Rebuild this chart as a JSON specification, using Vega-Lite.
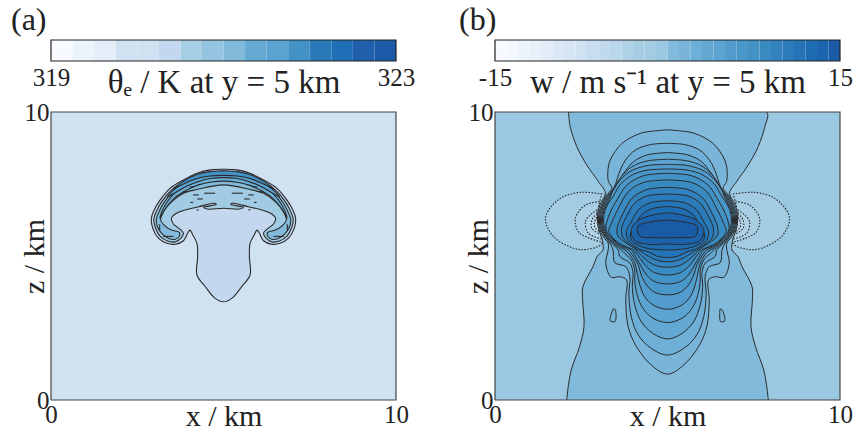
{"$schema":"https://vega.github.io/schema/vega-lite/v6.json","padding":{"left":11,"top":4,"right":10,"bottom":0},"background":"white","config":{"font":"Liberation Serif","view":{"stroke":null},"axis":{"labelFont":"Liberation Serif","titleFont":"Liberation Serif","labelColor":"#222","titleColor":"#222","grid":false,"ticks":false,"domain":false,"labelFontSize":25,"titleFontSize":30,"titleFontWeight":"normal","labelFlush":false,"labelOverlap":false}},
"datasets":{
"ca":[{"v":319,"e":319.25},{"v":319.25,"e":319.5},{"v":319.5,"e":319.75},{"v":319.75,"e":320},{"v":320,"e":320.25},{"v":320.25,"e":320.5},{"v":320.5,"e":320.75},{"v":320.75,"e":321},{"v":321,"e":321.25},{"v":321.25,"e":321.5},{"v":321.5,"e":321.75},{"v":321.75,"e":322},{"v":322,"e":322.25},{"v":322.25,"e":322.5},{"v":322.5,"e":322.75},{"v":322.75,"e":323}],
"cb":[{"v":-15,"e":-14},{"v":-14,"e":-13},{"v":-13,"e":-12},{"v":-12,"e":-11},{"v":-11,"e":-10},{"v":-10,"e":-9},{"v":-9,"e":-8},{"v":-8,"e":-7},{"v":-7,"e":-6},{"v":-6,"e":-5},{"v":-5,"e":-4},{"v":-4,"e":-3},{"v":-3,"e":-2},{"v":-2,"e":-1},{"v":-1,"e":0},{"v":0,"e":1},{"v":1,"e":2},{"v":2,"e":3},{"v":3,"e":4},{"v":4,"e":5},{"v":5,"e":6},{"v":6,"e":7},{"v":7,"e":8},{"v":8,"e":9},{"v":9,"e":10},{"v":10,"e":11},{"v":11,"e":12},{"v":12,"e":13},{"v":13,"e":14},{"v":14,"e":15}],
"a":[{"c":0,"l":319.75,"x":0,"z":0},{"c":0,"l":319.75,"x":10,"z":0},{"c":0,"l":319.75,"x":10,"z":10},{"c":0,"l":319.75,"x":0,"z":10},{"c":0,"l":319.75,"x":0,"z":0},
{"c":1,"l":320.25,"x":5,"z":8.01},{"c":1,"l":320.25,"x":4.61,"z":7.99},{"c":1,"l":320.25,"x":4.23,"z":7.87},{"c":1,"l":320.25,"x":3.84,"z":7.64},{"c":1,"l":320.25,"x":3.45,"z":7.35},{"c":1,"l":320.25,"x":3.16,"z":6.94},{"c":1,"l":320.25,"x":2.99,"z":6.6},{"c":1,"l":320.25,"x":2.91,"z":6.31},{"c":1,"l":320.25,"x":2.95,"z":5.96},{"c":1,"l":320.25,"x":3.12,"z":5.61},{"c":1,"l":320.25,"x":3.36,"z":5.44},{"c":1,"l":320.25,"x":3.6,"z":5.41},{"c":1,"l":320.25,"x":3.84,"z":5.53},{"c":1,"l":320.25,"x":3.96,"z":5.79},{"c":1,"l":320.25,"x":4.03,"z":5.9},{"c":1,"l":320.25,"x":4.11,"z":5.73},{"c":1,"l":320.25,"x":4.23,"z":5.44},{"c":1,"l":320.25,"x":4.25,"z":4.98},{"c":1,"l":320.25,"x":4.23,"z":4.34},{"c":1,"l":320.25,"x":4.47,"z":3.94},{"c":1,"l":320.25,"x":4.76,"z":3.53},{"c":1,"l":320.25,"x":5,"z":3.41},{"c":1,"l":320.25,"x":5.24,"z":3.53},{"c":1,"l":320.25,"x":5.53,"z":3.94},{"c":1,"l":320.25,"x":5.77,"z":4.34},{"c":1,"l":320.25,"x":5.75,"z":4.98},{"c":1,"l":320.25,"x":5.77,"z":5.44},{"c":1,"l":320.25,"x":5.89,"z":5.73},{"c":1,"l":320.25,"x":5.97,"z":5.9},{"c":1,"l":320.25,"x":6.04,"z":5.79},{"c":1,"l":320.25,"x":6.16,"z":5.53},{"c":1,"l":320.25,"x":6.4,"z":5.41},{"c":1,"l":320.25,"x":6.64,"z":5.44},{"c":1,"l":320.25,"x":6.88,"z":5.61},{"c":1,"l":320.25,"x":7.05,"z":5.96},{"c":1,"l":320.25,"x":7.09,"z":6.31},{"c":1,"l":320.25,"x":7.01,"z":6.6},{"c":1,"l":320.25,"x":6.84,"z":6.94},{"c":1,"l":320.25,"x":6.55,"z":7.35},{"c":1,"l":320.25,"x":6.16,"z":7.64},{"c":1,"l":320.25,"x":5.77,"z":7.87},{"c":1,"l":320.25,"x":5.39,"z":7.99},{"c":1,"l":320.25,"x":5,"z":8.01},
{"c":2,"l":320.75,"x":5,"z":7.94},{"c":2,"l":320.75,"x":4.61,"z":7.92},{"c":2,"l":320.75,"x":4.23,"z":7.8},{"c":2,"l":320.75,"x":3.86,"z":7.58},{"c":2,"l":320.75,"x":3.49,"z":7.29},{"c":2,"l":320.75,"x":3.21,"z":6.89},{"c":2,"l":320.75,"x":3.05,"z":6.54},{"c":2,"l":320.75,"x":2.98,"z":6.28},{"c":2,"l":320.75,"x":3.02,"z":6},{"c":2,"l":320.75,"x":3.16,"z":5.69},{"c":2,"l":320.75,"x":3.38,"z":5.52},{"c":2,"l":320.75,"x":3.6,"z":5.49},{"c":2,"l":320.75,"x":3.76,"z":5.61},{"c":2,"l":320.75,"x":3.84,"z":5.79},{"c":2,"l":320.75,"x":3.74,"z":5.93},{"c":2,"l":320.75,"x":3.55,"z":6.11},{"c":2,"l":320.75,"x":3.49,"z":6.31},{"c":2,"l":320.75,"x":3.6,"z":6.46},{"c":2,"l":320.75,"x":3.89,"z":6.6},{"c":2,"l":320.75,"x":4.28,"z":6.71},{"c":2,"l":320.75,"x":4.73,"z":6.83},{"c":2,"l":320.75,"x":4.79,"z":6.79},{"c":2,"l":320.75,"x":4.42,"z":6.69},{"c":2,"l":320.75,"x":4.54,"z":6.63},{"c":2,"l":320.75,"x":5,"z":6.66},{"c":2,"l":320.75,"x":5.46,"z":6.63},{"c":2,"l":320.75,"x":5.58,"z":6.69},{"c":2,"l":320.75,"x":5.21,"z":6.79},{"c":2,"l":320.75,"x":5.27,"z":6.83},{"c":2,"l":320.75,"x":5.72,"z":6.71},{"c":2,"l":320.75,"x":6.11,"z":6.6},{"c":2,"l":320.75,"x":6.4,"z":6.46},{"c":2,"l":320.75,"x":6.51,"z":6.31},{"c":2,"l":320.75,"x":6.45,"z":6.11},{"c":2,"l":320.75,"x":6.26,"z":5.93},{"c":2,"l":320.75,"x":6.16,"z":5.79},{"c":2,"l":320.75,"x":6.24,"z":5.61},{"c":2,"l":320.75,"x":6.4,"z":5.49},{"c":2,"l":320.75,"x":6.62,"z":5.52},{"c":2,"l":320.75,"x":6.84,"z":5.69},{"c":2,"l":320.75,"x":6.98,"z":6},{"c":2,"l":320.75,"x":7.02,"z":6.28},{"c":2,"l":320.75,"x":6.95,"z":6.54},{"c":2,"l":320.75,"x":6.79,"z":6.89},{"c":2,"l":320.75,"x":6.51,"z":7.29},{"c":2,"l":320.75,"x":6.14,"z":7.58},{"c":2,"l":320.75,"x":5.77,"z":7.8},{"c":2,"l":320.75,"x":5.39,"z":7.92},{"c":2,"l":320.75,"x":5,"z":7.94},
{"c":3,"l":321,"x":5,"z":7.87},{"c":3,"l":321,"x":4.23,"z":7.71},{"c":3,"l":321,"x":3.89,"z":7.52},{"c":3,"l":321,"x":3.53,"z":7.23},{"c":3,"l":321,"x":3.26,"z":6.83},{"c":3,"l":321,"x":3.11,"z":6.48},{"c":3,"l":321,"x":3.05,"z":6.25},{"c":3,"l":321,"x":3.09,"z":6},{"c":3,"l":321,"x":3.23,"z":5.76},{"c":3,"l":321,"x":3.41,"z":5.61},{"c":3,"l":321,"x":3.6,"z":5.58},{"c":3,"l":321,"x":3.72,"z":5.69},{"c":3,"l":321,"x":3.72,"z":5.82},{"c":3,"l":321,"x":3.5,"z":5.9},{"c":3,"l":321,"x":3.31,"z":6.04},{"c":3,"l":321,"x":3.18,"z":6.25},{"c":3,"l":321,"x":3.26,"z":6.54},{"c":3,"l":321,"x":3.5,"z":6.89},{"c":3,"l":321,"x":3.84,"z":7.18},{"c":3,"l":321,"x":4.23,"z":7.31},{"c":3,"l":321,"x":5,"z":7.47},{"c":3,"l":321,"x":5.77,"z":7.31},{"c":3,"l":321,"x":6.16,"z":7.18},{"c":3,"l":321,"x":6.5,"z":6.89},{"c":3,"l":321,"x":6.74,"z":6.54},{"c":3,"l":321,"x":6.82,"z":6.25},{"c":3,"l":321,"x":6.69,"z":6.04},{"c":3,"l":321,"x":6.5,"z":5.9},{"c":3,"l":321,"x":6.28,"z":5.82},{"c":3,"l":321,"x":6.28,"z":5.69},{"c":3,"l":321,"x":6.4,"z":5.58},{"c":3,"l":321,"x":6.59,"z":5.61},{"c":3,"l":321,"x":6.77,"z":5.76},{"c":3,"l":321,"x":6.91,"z":6},{"c":3,"l":321,"x":6.95,"z":6.25},{"c":3,"l":321,"x":6.89,"z":6.48},{"c":3,"l":321,"x":6.74,"z":6.83},{"c":3,"l":321,"x":6.47,"z":7.23},{"c":3,"l":321,"x":6.11,"z":7.52},{"c":3,"l":321,"x":5.77,"z":7.71},{"c":3,"l":321,"x":5,"z":7.87},
{"c":4,"l":321.5,"x":5,"z":7.8},{"c":4,"l":321.5,"x":4.23,"z":7.62},{"c":4,"l":321.5,"x":3.89,"z":7.43},{"c":4,"l":321.5,"x":3.55,"z":7.15},{"c":4,"l":321.5,"x":3.34,"z":6.83},{"c":4,"l":321.5,"x":3.21,"z":6.54},{"c":4,"l":321.5,"x":3.16,"z":6.31},{"c":4,"l":321.5,"x":3.29,"z":6.6},{"c":4,"l":321.5,"x":3.57,"z":7},{"c":4,"l":321.5,"x":3.94,"z":7.29},{"c":4,"l":321.5,"x":4.28,"z":7.47},{"c":4,"l":321.5,"x":4.61,"z":7.56},{"c":4,"l":321.5,"x":5,"z":7.6},{"c":4,"l":321.5,"x":5.39,"z":7.56},{"c":4,"l":321.5,"x":5.72,"z":7.47},{"c":4,"l":321.5,"x":6.06,"z":7.29},{"c":4,"l":321.5,"x":6.43,"z":7},{"c":4,"l":321.5,"x":6.71,"z":6.6},{"c":4,"l":321.5,"x":6.84,"z":6.31},{"c":4,"l":321.5,"x":6.79,"z":6.54},{"c":4,"l":321.5,"x":6.66,"z":6.83},{"c":4,"l":321.5,"x":6.45,"z":7.15},{"c":4,"l":321.5,"x":6.11,"z":7.43},{"c":4,"l":321.5,"x":5.77,"z":7.62},{"c":4,"l":321.5,"x":5,"z":7.8},
{"c":5,"l":322,"x":5,"z":7.89},{"c":5,"l":322,"x":4.61,"z":7.87},{"c":5,"l":322,"x":4.23,"z":7.75},{"c":5,"l":322,"x":3.84,"z":7.55},{"c":5,"l":322,"x":3.55,"z":7.29},{"c":5,"l":322,"x":3.38,"z":7.06},{"c":5,"l":322,"x":3.6,"z":7.2},{"c":5,"l":322,"x":3.94,"z":7.43},{"c":5,"l":322,"x":4.28,"z":7.59},{"c":5,"l":322,"x":4.61,"z":7.69},{"c":5,"l":322,"x":5,"z":7.72},{"c":5,"l":322,"x":5.39,"z":7.69},{"c":5,"l":322,"x":5.72,"z":7.59},{"c":5,"l":322,"x":6.06,"z":7.43},{"c":5,"l":322,"x":6.4,"z":7.2},{"c":5,"l":322,"x":6.62,"z":7.06},{"c":5,"l":322,"x":6.45,"z":7.29},{"c":5,"l":322,"x":6.16,"z":7.55},{"c":5,"l":322,"x":5.77,"z":7.75},{"c":5,"l":322,"x":5.39,"z":7.87},{"c":5,"l":322,"x":5,"z":7.89},
{"c":6,"l":322.5,"x":5,"z":7.96},{"c":6,"l":322.5,"x":4.61,"z":7.93},{"c":6,"l":322.5,"x":4.23,"z":7.83},{"c":6,"l":322.5,"x":3.84,"z":7.6},{"c":6,"l":322.5,"x":3.55,"z":7.33},{"c":6,"l":322.5,"x":3.84,"z":7.5},{"c":6,"l":322.5,"x":4.23,"z":7.69},{"c":6,"l":322.5,"x":4.61,"z":7.78},{"c":6,"l":322.5,"x":5,"z":7.8},{"c":6,"l":322.5,"x":5.39,"z":7.78},{"c":6,"l":322.5,"x":5.77,"z":7.69},{"c":6,"l":322.5,"x":6.16,"z":7.5},{"c":6,"l":322.5,"x":6.45,"z":7.33},{"c":6,"l":322.5,"x":6.16,"z":7.6},{"c":6,"l":322.5,"x":5.77,"z":7.83},{"c":6,"l":322.5,"x":5.39,"z":7.93},{"c":6,"l":322.5,"x":5,"z":7.96},
{"c":10,"l":322.25,"x":4.76,"z":7.18},{"c":10,"l":322.25,"x":4.44,"z":7.18},{"c":11,"l":322.25,"x":5.24,"z":7.18},{"c":11,"l":322.25,"x":5.56,"z":7.18},{"c":12,"l":322.25,"x":4.28,"z":7.12},{"c":12,"l":322.25,"x":4.12,"z":7.12},{"c":13,"l":322.25,"x":5.72,"z":7.12},{"c":13,"l":322.25,"x":5.88,"z":7.12},{"c":14,"l":322.25,"x":4.4,"z":6.98},{"c":14,"l":322.25,"x":4.24,"z":6.98},{"c":15,"l":322.25,"x":5.6,"z":6.98},{"c":15,"l":322.25,"x":5.76,"z":6.98},{"c":16,"l":322.25,"x":4.12,"z":6.86},{"c":16,"l":322.25,"x":4.04,"z":6.86},{"c":17,"l":322.25,"x":5.88,"z":6.86},{"c":17,"l":322.25,"x":5.96,"z":6.86},{"c":18,"l":322.25,"x":4.28,"z":6.6},{"c":18,"l":322.25,"x":4.22,"z":6.6},{"c":19,"l":322.25,"x":5.72,"z":6.6},{"c":19,"l":322.25,"x":5.78,"z":6.6},{"c":20,"l":322.25,"x":3.15,"z":5.9},{"c":20,"l":322.25,"x":3.15,"z":6.1},{"c":21,"l":322.25,"x":6.85,"z":5.9},{"c":21,"l":322.25,"x":6.85,"z":6.1},{"c":22,"l":322.25,"x":3.55,"z":5.68},{"c":22,"l":322.25,"x":3.25,"z":5.68},{"c":23,"l":322.25,"x":6.45,"z":5.68},{"c":23,"l":322.25,"x":6.75,"z":5.68},{"c":24,"l":322.25,"x":3.95,"z":7.23},{"c":24,"l":322.25,"x":3.83,"z":7.23},{"c":25,"l":322.25,"x":6.05,"z":7.23},{"c":25,"l":322.25,"x":6.17,"z":7.23},{"c":26,"l":322.25,"x":4.15,"z":7.4},{"c":26,"l":322.25,"x":4.02,"z":7.4},{"c":27,"l":322.25,"x":5.85,"z":7.4},{"c":27,"l":322.25,"x":5.98,"z":7.4}],
"b":[{"c":0,"l":-1,"x":0,"z":0},{"c":0,"l":-1,"x":10,"z":0},{"c":0,"l":-1,"x":10,"z":10},{"c":0,"l":-1,"x":0,"z":10},{"c":0,"l":-1,"x":0,"z":0},
{"c":20,"l":-2,"x":3.1,"z":7.15},{"c":20,"l":-2,"x":2.47,"z":7.21},{"c":20,"l":-2,"x":1.89,"z":7},{"c":20,"l":-2,"x":1.5,"z":6.48},{"c":20,"l":-2,"x":1.47,"z":6.19},{"c":20,"l":-2,"x":1.7,"z":5.67},{"c":20,"l":-2,"x":2.28,"z":5.27},{"c":20,"l":-2,"x":2.66,"z":5.23},{"c":20,"l":-2,"x":3.1,"z":5.44},{"c":20,"l":-2,"x":2.97,"z":5.95},{"c":20,"l":-2,"x":2.95,"z":6.35},{"c":20,"l":-2,"x":3,"z":6.75},{"c":20,"l":-2,"x":3.1,"z":7.15},
{"c":21,"l":-2,"x":6.9,"z":7.15},{"c":21,"l":-2,"x":7.53,"z":7.21},{"c":21,"l":-2,"x":8.11,"z":7},{"c":21,"l":-2,"x":8.5,"z":6.48},{"c":21,"l":-2,"x":8.53,"z":6.19},{"c":21,"l":-2,"x":8.3,"z":5.67},{"c":21,"l":-2,"x":7.72,"z":5.27},{"c":21,"l":-2,"x":7.34,"z":5.23},{"c":21,"l":-2,"x":6.9,"z":5.44},{"c":21,"l":-2,"x":7.03,"z":5.95},{"c":21,"l":-2,"x":7.05,"z":6.35},{"c":21,"l":-2,"x":7,"z":6.75},{"c":21,"l":-2,"x":6.9,"z":7.15},
{"c":22,"l":-3,"x":3.03,"z":6.89},{"c":22,"l":-3,"x":2.62,"z":6.77},{"c":22,"l":-3,"x":2.33,"z":6.31},{"c":22,"l":-3,"x":2.42,"z":5.84},{"c":22,"l":-3,"x":2.76,"z":5.61},{"c":22,"l":-3,"x":3.2,"z":5.5},{"c":22,"l":-3,"x":3.05,"z":5.95},{"c":22,"l":-3,"x":2.97,"z":6.35},{"c":22,"l":-3,"x":3.03,"z":6.89},
{"c":23,"l":-3,"x":6.97,"z":6.89},{"c":23,"l":-3,"x":7.38,"z":6.77},{"c":23,"l":-3,"x":7.67,"z":6.31},{"c":23,"l":-3,"x":7.58,"z":5.84},{"c":23,"l":-3,"x":7.24,"z":5.61},{"c":23,"l":-3,"x":6.8,"z":5.5},{"c":23,"l":-3,"x":6.95,"z":5.95},{"c":23,"l":-3,"x":7.03,"z":6.35},{"c":23,"l":-3,"x":6.97,"z":6.89},
{"c":24,"l":-4,"x":2.96,"z":6.6},{"c":24,"l":-4,"x":2.76,"z":6.42},{"c":24,"l":-4,"x":2.62,"z":6.19},{"c":24,"l":-4,"x":2.71,"z":5.79},{"c":24,"l":-4,"x":3.15,"z":5.61},{"c":24,"l":-4,"x":3,"z":6},{"c":24,"l":-4,"x":2.96,"z":6.6},
{"c":25,"l":-4,"x":7.04,"z":6.6},{"c":25,"l":-4,"x":7.24,"z":6.42},{"c":25,"l":-4,"x":7.38,"z":6.19},{"c":25,"l":-4,"x":7.29,"z":5.79},{"c":25,"l":-4,"x":6.85,"z":5.61},{"c":25,"l":-4,"x":7,"z":6},{"c":25,"l":-4,"x":7.04,"z":6.6},
{"c":26,"l":-5,"x":2.96,"z":6.48},{"c":26,"l":-5,"x":2.81,"z":6.25},{"c":26,"l":-5,"x":2.81,"z":5.96},{"c":26,"l":-5,"x":3.15,"z":5.73},{"c":26,"l":-5,"x":3,"z":6.1},{"c":26,"l":-5,"x":2.96,"z":6.48},
{"c":27,"l":-5,"x":7.04,"z":6.48},{"c":27,"l":-5,"x":7.19,"z":6.25},{"c":27,"l":-5,"x":7.19,"z":5.96},{"c":27,"l":-5,"x":6.85,"z":5.73},{"c":27,"l":-5,"x":7,"z":6.1},{"c":27,"l":-5,"x":7.04,"z":6.48},
{"c":28,"l":-6,"x":2.95,"z":6.35},{"c":28,"l":-6,"x":2.88,"z":6.15},{"c":28,"l":-6,"x":2.9,"z":5.98},{"c":28,"l":-6,"x":3.05,"z":5.85},{"c":28,"l":-6,"x":2.98,"z":6.1},{"c":28,"l":-6,"x":2.95,"z":6.35},
{"c":29,"l":-6,"x":7.05,"z":6.35},{"c":29,"l":-6,"x":7.12,"z":6.15},{"c":29,"l":-6,"x":7.1,"z":5.98},{"c":29,"l":-6,"x":6.95,"z":5.85},{"c":29,"l":-6,"x":7.02,"z":6.1},{"c":29,"l":-6,"x":7.05,"z":6.35},
{"c":1,"l":0,"x":2.13,"z":10},{"c":1,"l":0,"x":2.18,"z":9.49},{"c":1,"l":0,"x":2.37,"z":8.8},{"c":1,"l":0,"x":2.66,"z":8.16},{"c":1,"l":0,"x":3,"z":7.58},{"c":1,"l":0,"x":3.2,"z":7.18},{"c":1,"l":0,"x":3.05,"z":6.8},{"c":1,"l":0,"x":2.97,"z":6.35},{"c":1,"l":0,"x":3,"z":5.95},{"c":1,"l":0,"x":3.1,"z":5.6},{"c":1,"l":0,"x":3.13,"z":5.4},{"c":1,"l":0,"x":3.13,"z":5.21},{"c":1,"l":0,"x":2.96,"z":4.98},{"c":1,"l":0,"x":2.84,"z":4.63},{"c":1,"l":0,"x":2.55,"z":3.94},{"c":1,"l":0,"x":2.54,"z":3.47},{"c":1,"l":0,"x":2.58,"z":2.55},{"c":1,"l":0,"x":2.45,"z":1.85},{"c":1,"l":0,"x":2.21,"z":1.04},{"c":1,"l":0,"x":2.09,"z":0.12},{"c":1,"l":0,"x":2.09,"z":0},{"c":1,"l":0,"x":7.91,"z":0},{"c":1,"l":0,"x":7.91,"z":0.12},{"c":1,"l":0,"x":7.79,"z":1.04},{"c":1,"l":0,"x":7.55,"z":1.85},{"c":1,"l":0,"x":7.42,"z":2.55},{"c":1,"l":0,"x":7.46,"z":3.47},{"c":1,"l":0,"x":7.45,"z":3.94},{"c":1,"l":0,"x":7.16,"z":4.63},{"c":1,"l":0,"x":7.04,"z":4.98},{"c":1,"l":0,"x":6.87,"z":5.21},{"c":1,"l":0,"x":6.87,"z":5.4},{"c":1,"l":0,"x":6.9,"z":5.6},{"c":1,"l":0,"x":7,"z":5.95},{"c":1,"l":0,"x":7.03,"z":6.35},{"c":1,"l":0,"x":6.95,"z":6.8},{"c":1,"l":0,"x":6.8,"z":7.18},{"c":1,"l":0,"x":7,"z":7.58},{"c":1,"l":0,"x":7.34,"z":8.16},{"c":1,"l":0,"x":7.63,"z":8.8},{"c":1,"l":0,"x":7.82,"z":9.49},{"c":1,"l":0,"x":7.87,"z":10},{"c":1,"l":0,"x":2.13,"z":10},
{"c":30,"l":1,"x":3.42,"z":3.16},{"c":30,"l":1,"x":3.48,"z":3.15},{"c":30,"l":1,"x":3.48,"z":2.73},{"c":30,"l":1,"x":3.34,"z":2.75},{"c":30,"l":1,"x":3.42,"z":3.16},{"c":31,"l":1,"x":6.52,"z":3.16},{"c":31,"l":1,"x":6.57,"z":3.15},{"c":31,"l":1,"x":6.66,"z":2.75},{"c":31,"l":1,"x":6.54,"z":2.72},{"c":31,"l":1,"x":6.52,"z":3.16},
{"c":2,"l":1,"x":5,"z":9.38},{"c":2,"l":1,"x":4.6,"z":9.34},{"c":2,"l":1,"x":4.22,"z":9.26},{"c":2,"l":1,"x":3.68,"z":8.91},{"c":2,"l":1,"x":3.34,"z":8.33},{"c":2,"l":1,"x":3.27,"z":7.93},{"c":2,"l":1,"x":3.29,"z":7.58},{"c":2,"l":1,"x":3.39,"z":7.35},{"c":2,"l":1,"x":3.22,"z":7.1},{"c":2,"l":1,"x":3.08,"z":6.75},{"c":2,"l":1,"x":3,"z":6.35},{"c":2,"l":1,"x":3.03,"z":5.95},{"c":2,"l":1,"x":3.15,"z":5.65},{"c":2,"l":1,"x":3.28,"z":5.45},{"c":2,"l":1,"x":3.28,"z":5.21},{"c":2,"l":1,"x":3.21,"z":4.75},{"c":2,"l":1,"x":3.37,"z":4.26},{"c":2,"l":1,"x":3.61,"z":4.28},{"c":2,"l":1,"x":3.81,"z":4.17},{"c":2,"l":1,"x":3.79,"z":3.47},{"c":2,"l":1,"x":3.86,"z":2.55},{"c":2,"l":1,"x":4.1,"z":1.85},{"c":2,"l":1,"x":4.58,"z":1.16},{"c":2,"l":1,"x":5,"z":0.9},{"c":2,"l":1,"x":5.42,"z":1.16},{"c":2,"l":1,"x":5.9,"z":1.85},{"c":2,"l":1,"x":6.14,"z":2.55},{"c":2,"l":1,"x":6.21,"z":3.47},{"c":2,"l":1,"x":6.19,"z":4.17},{"c":2,"l":1,"x":6.39,"z":4.28},{"c":2,"l":1,"x":6.63,"z":4.26},{"c":2,"l":1,"x":6.79,"z":4.75},{"c":2,"l":1,"x":6.72,"z":5.21},{"c":2,"l":1,"x":6.72,"z":5.45},{"c":2,"l":1,"x":6.85,"z":5.65},{"c":2,"l":1,"x":6.97,"z":5.95},{"c":2,"l":1,"x":7,"z":6.35},{"c":2,"l":1,"x":6.92,"z":6.75},{"c":2,"l":1,"x":6.78,"z":7.1},{"c":2,"l":1,"x":6.61,"z":7.35},{"c":2,"l":1,"x":6.71,"z":7.58},{"c":2,"l":1,"x":6.73,"z":7.93},{"c":2,"l":1,"x":6.66,"z":8.33},{"c":2,"l":1,"x":6.32,"z":8.91},{"c":2,"l":1,"x":5.78,"z":9.26},{"c":2,"l":1,"x":5.4,"z":9.34},{"c":2,"l":1,"x":5,"z":9.38},
{"c":3,"l":2,"x":5,"z":8.91},{"c":3,"l":2,"x":4.51,"z":8.87},{"c":3,"l":2,"x":4.07,"z":8.68},{"c":3,"l":2,"x":3.78,"z":8.33},{"c":3,"l":2,"x":3.59,"z":7.86},{"c":3,"l":2,"x":3.5,"z":7.52},{"c":3,"l":2,"x":3.41,"z":7.3},{"c":3,"l":2,"x":3.25,"z":7.08},{"c":3,"l":2,"x":3.11,"z":6.74},{"c":3,"l":2,"x":3.03,"z":6.35},{"c":3,"l":2,"x":3.06,"z":5.95},{"c":3,"l":2,"x":3.2,"z":5.65},{"c":3,"l":2,"x":3.33,"z":5.45},{"c":3,"l":2,"x":3.42,"z":5.21},{"c":3,"l":2,"x":3.47,"z":4.77},{"c":3,"l":2,"x":3.79,"z":4.63},{"c":3,"l":2,"x":3.91,"z":4.28},{"c":3,"l":2,"x":3.88,"z":3.7},{"c":3,"l":2,"x":3.95,"z":2.89},{"c":3,"l":2,"x":4.15,"z":2.26},{"c":3,"l":2,"x":4.53,"z":1.79},{"c":3,"l":2,"x":5,"z":1.56},{"c":3,"l":2,"x":5.47,"z":1.79},{"c":3,"l":2,"x":5.85,"z":2.26},{"c":3,"l":2,"x":6.05,"z":2.89},{"c":3,"l":2,"x":6.12,"z":3.7},{"c":3,"l":2,"x":6.09,"z":4.28},{"c":3,"l":2,"x":6.21,"z":4.63},{"c":3,"l":2,"x":6.53,"z":4.77},{"c":3,"l":2,"x":6.58,"z":5.21},{"c":3,"l":2,"x":6.67,"z":5.45},{"c":3,"l":2,"x":6.8,"z":5.65},{"c":3,"l":2,"x":6.94,"z":5.95},{"c":3,"l":2,"x":6.97,"z":6.35},{"c":3,"l":2,"x":6.89,"z":6.74},{"c":3,"l":2,"x":6.75,"z":7.08},{"c":3,"l":2,"x":6.59,"z":7.3},{"c":3,"l":2,"x":6.5,"z":7.52},{"c":3,"l":2,"x":6.41,"z":7.86},{"c":3,"l":2,"x":6.22,"z":8.33},{"c":3,"l":2,"x":5.93,"z":8.68},{"c":3,"l":2,"x":5.49,"z":8.87},{"c":3,"l":2,"x":5,"z":8.91},
{"c":4,"l":3,"x":5,"z":8.59},{"c":4,"l":3,"x":4.41,"z":8.51},{"c":4,"l":3,"x":4.02,"z":8.28},{"c":4,"l":3,"x":3.73,"z":7.87},{"c":4,"l":3,"x":3.54,"z":7.52},{"c":4,"l":3,"x":3.42,"z":7.28},{"c":4,"l":3,"x":3.28,"z":7.06},{"c":4,"l":3,"x":3.14,"z":6.73},{"c":4,"l":3,"x":3.06,"z":6.35},{"c":4,"l":3,"x":3.09,"z":5.95},{"c":4,"l":3,"x":3.25,"z":5.62},{"c":4,"l":3,"x":3.4,"z":5.42},{"c":4,"l":3,"x":3.57,"z":5.21},{"c":4,"l":3,"x":3.62,"z":4.98},{"c":4,"l":3,"x":3.91,"z":4.75},{"c":4,"l":3,"x":4,"z":4.4},{"c":4,"l":3,"x":3.98,"z":3.94},{"c":4,"l":3,"x":4.05,"z":3.3},{"c":4,"l":3,"x":4.24,"z":2.72},{"c":4,"l":3,"x":4.58,"z":2.31},{"c":4,"l":3,"x":5,"z":2.12},{"c":4,"l":3,"x":5.42,"z":2.31},{"c":4,"l":3,"x":5.76,"z":2.72},{"c":4,"l":3,"x":5.95,"z":3.3},{"c":4,"l":3,"x":6.02,"z":3.94},{"c":4,"l":3,"x":6,"z":4.4},{"c":4,"l":3,"x":6.09,"z":4.75},{"c":4,"l":3,"x":6.38,"z":4.98},{"c":4,"l":3,"x":6.43,"z":5.21},{"c":4,"l":3,"x":6.6,"z":5.42},{"c":4,"l":3,"x":6.75,"z":5.62},{"c":4,"l":3,"x":6.91,"z":5.95},{"c":4,"l":3,"x":6.94,"z":6.35},{"c":4,"l":3,"x":6.86,"z":6.73},{"c":4,"l":3,"x":6.72,"z":7.06},{"c":4,"l":3,"x":6.58,"z":7.28},{"c":4,"l":3,"x":6.46,"z":7.52},{"c":4,"l":3,"x":6.27,"z":7.87},{"c":4,"l":3,"x":5.98,"z":8.28},{"c":4,"l":3,"x":5.59,"z":8.51},{"c":4,"l":3,"x":5,"z":8.59},
{"c":5,"l":4,"x":5,"z":8.36},{"c":5,"l":4,"x":4.41,"z":8.3},{"c":5,"l":4,"x":3.97,"z":8.1},{"c":5,"l":4,"x":3.63,"z":7.7},{"c":5,"l":4,"x":3.45,"z":7.33},{"c":5,"l":4,"x":3.31,"z":7.05},{"c":5,"l":4,"x":3.17,"z":6.72},{"c":5,"l":4,"x":3.09,"z":6.35},{"c":5,"l":4,"x":3.12,"z":5.95},{"c":5,"l":4,"x":3.3,"z":5.6},{"c":5,"l":4,"x":3.5,"z":5.36},{"c":5,"l":4,"x":3.66,"z":5.21},{"c":5,"l":4,"x":3.76,"z":5.09},{"c":5,"l":4,"x":3.95,"z":4.86},{"c":5,"l":4,"x":4.05,"z":4.51},{"c":5,"l":4,"x":4.05,"z":4.17},{"c":5,"l":4,"x":4.12,"z":3.65},{"c":5,"l":4,"x":4.29,"z":3.18},{"c":5,"l":4,"x":4.58,"z":2.84},{"c":5,"l":4,"x":5,"z":2.69},{"c":5,"l":4,"x":5.42,"z":2.84},{"c":5,"l":4,"x":5.71,"z":3.18},{"c":5,"l":4,"x":5.88,"z":3.65},{"c":5,"l":4,"x":5.95,"z":4.17},{"c":5,"l":4,"x":5.95,"z":4.51},{"c":5,"l":4,"x":6.05,"z":4.86},{"c":5,"l":4,"x":6.24,"z":5.09},{"c":5,"l":4,"x":6.34,"z":5.21},{"c":5,"l":4,"x":6.5,"z":5.36},{"c":5,"l":4,"x":6.7,"z":5.6},{"c":5,"l":4,"x":6.88,"z":5.95},{"c":5,"l":4,"x":6.91,"z":6.35},{"c":5,"l":4,"x":6.83,"z":6.72},{"c":5,"l":4,"x":6.69,"z":7.05},{"c":5,"l":4,"x":6.55,"z":7.33},{"c":5,"l":4,"x":6.37,"z":7.7},{"c":5,"l":4,"x":6.03,"z":8.1},{"c":5,"l":4,"x":5.59,"z":8.3},{"c":5,"l":4,"x":5,"z":8.36},
{"c":6,"l":5,"x":5,"z":8.18},{"c":6,"l":5,"x":4.41,"z":8.14},{"c":6,"l":5,"x":3.92,"z":7.94},{"c":6,"l":5,"x":3.59,"z":7.58},{"c":6,"l":5,"x":3.39,"z":7.2},{"c":6,"l":5,"x":3.34,"z":7.03},{"c":6,"l":5,"x":3.2,"z":6.7},{"c":6,"l":5,"x":3.12,"z":6.35},{"c":6,"l":5,"x":3.15,"z":5.95},{"c":6,"l":5,"x":3.35,"z":5.58},{"c":6,"l":5,"x":3.58,"z":5.34},{"c":6,"l":5,"x":3.76,"z":5.21},{"c":6,"l":5,"x":3.89,"z":5.07},{"c":6,"l":5,"x":4.05,"z":4.75},{"c":6,"l":5,"x":4.12,"z":4.4},{"c":6,"l":5,"x":4.2,"z":3.99},{"c":6,"l":5,"x":4.34,"z":3.59},{"c":6,"l":5,"x":4.58,"z":3.3},{"c":6,"l":5,"x":5,"z":3.15},{"c":6,"l":5,"x":5.42,"z":3.3},{"c":6,"l":5,"x":5.66,"z":3.59},{"c":6,"l":5,"x":5.8,"z":3.99},{"c":6,"l":5,"x":5.88,"z":4.4},{"c":6,"l":5,"x":5.95,"z":4.75},{"c":6,"l":5,"x":6.11,"z":5.07},{"c":6,"l":5,"x":6.24,"z":5.21},{"c":6,"l":5,"x":6.42,"z":5.34},{"c":6,"l":5,"x":6.65,"z":5.58},{"c":6,"l":5,"x":6.85,"z":5.95},{"c":6,"l":5,"x":6.88,"z":6.35},{"c":6,"l":5,"x":6.8,"z":6.7},{"c":6,"l":5,"x":6.66,"z":7.03},{"c":6,"l":5,"x":6.61,"z":7.2},{"c":6,"l":5,"x":6.41,"z":7.58},{"c":6,"l":5,"x":6.08,"z":7.94},{"c":6,"l":5,"x":5.59,"z":8.14},{"c":6,"l":5,"x":5,"z":8.18},
{"c":7,"l":6,"x":5,"z":8.02},{"c":7,"l":6,"x":4.41,"z":7.98},{"c":7,"l":6,"x":3.97,"z":7.81},{"c":7,"l":6,"x":3.63,"z":7.48},{"c":7,"l":6,"x":3.45,"z":7.12},{"c":7,"l":6,"x":3.23,"z":6.7},{"c":7,"l":6,"x":3.15,"z":6.35},{"c":7,"l":6,"x":3.19,"z":5.95},{"c":7,"l":6,"x":3.42,"z":5.56},{"c":7,"l":6,"x":3.67,"z":5.32},{"c":7,"l":6,"x":3.86,"z":5.21},{"c":7,"l":6,"x":4,"z":5},{"c":7,"l":6,"x":4.15,"z":4.69},{"c":7,"l":6,"x":4.24,"z":4.34},{"c":7,"l":6,"x":4.39,"z":4},{"c":7,"l":6,"x":4.63,"z":3.74},{"c":7,"l":6,"x":5,"z":3.65},{"c":7,"l":6,"x":5.37,"z":3.74},{"c":7,"l":6,"x":5.61,"z":4},{"c":7,"l":6,"x":5.76,"z":4.34},{"c":7,"l":6,"x":5.85,"z":4.69},{"c":7,"l":6,"x":6,"z":5},{"c":7,"l":6,"x":6.14,"z":5.21},{"c":7,"l":6,"x":6.33,"z":5.32},{"c":7,"l":6,"x":6.58,"z":5.56},{"c":7,"l":6,"x":6.81,"z":5.95},{"c":7,"l":6,"x":6.85,"z":6.35},{"c":7,"l":6,"x":6.77,"z":6.7},{"c":7,"l":6,"x":6.55,"z":7.12},{"c":7,"l":6,"x":6.37,"z":7.48},{"c":7,"l":6,"x":6.03,"z":7.81},{"c":7,"l":6,"x":5.59,"z":7.98},{"c":7,"l":6,"x":5,"z":8.02},
{"c":8,"l":7,"x":5,"z":7.87},{"c":8,"l":7,"x":4.31,"z":7.79},{"c":8,"l":7,"x":3.83,"z":7.47},{"c":8,"l":7,"x":3.56,"z":7},{"c":8,"l":7,"x":3.29,"z":6.37},{"c":8,"l":7,"x":3.22,"z":5.9},{"c":8,"l":7,"x":3.45,"z":5.55},{"c":8,"l":7,"x":3.7,"z":5.35},{"c":8,"l":7,"x":3.95,"z":5.21},{"c":8,"l":7,"x":4.1,"z":4.92},{"c":8,"l":7,"x":4.24,"z":4.63},{"c":8,"l":7,"x":4.39,"z":4.34},{"c":8,"l":7,"x":4.63,"z":4.11},{"c":8,"l":7,"x":5,"z":4.03},{"c":8,"l":7,"x":5.37,"z":4.11},{"c":8,"l":7,"x":5.61,"z":4.34},{"c":8,"l":7,"x":5.76,"z":4.63},{"c":8,"l":7,"x":5.9,"z":4.92},{"c":8,"l":7,"x":6.05,"z":5.21},{"c":8,"l":7,"x":6.3,"z":5.35},{"c":8,"l":7,"x":6.55,"z":5.55},{"c":8,"l":7,"x":6.78,"z":5.9},{"c":8,"l":7,"x":6.71,"z":6.37},{"c":8,"l":7,"x":6.44,"z":7},{"c":8,"l":7,"x":6.17,"z":7.47},{"c":8,"l":7,"x":5.69,"z":7.79},{"c":8,"l":7,"x":5,"z":7.87},
{"c":9,"l":8,"x":5,"z":7.64},{"c":9,"l":8,"x":4.29,"z":7.55},{"c":9,"l":8,"x":3.86,"z":7.23},{"c":9,"l":8,"x":3.6,"z":6.71},{"c":9,"l":8,"x":3.37,"z":6.13},{"c":9,"l":8,"x":3.3,"z":5.85},{"c":9,"l":8,"x":3.55,"z":5.48},{"c":9,"l":8,"x":3.8,"z":5.32},{"c":9,"l":8,"x":4.02,"z":5.21},{"c":9,"l":8,"x":4.08,"z":5.12},{"c":9,"l":8,"x":4.24,"z":4.86},{"c":9,"l":8,"x":4.39,"z":4.63},{"c":9,"l":8,"x":4.63,"z":4.42},{"c":9,"l":8,"x":5,"z":4.34},{"c":9,"l":8,"x":5.37,"z":4.42},{"c":9,"l":8,"x":5.61,"z":4.63},{"c":9,"l":8,"x":5.76,"z":4.86},{"c":9,"l":8,"x":5.92,"z":5.12},{"c":9,"l":8,"x":5.98,"z":5.21},{"c":9,"l":8,"x":6.2,"z":5.32},{"c":9,"l":8,"x":6.45,"z":5.48},{"c":9,"l":8,"x":6.7,"z":5.85},{"c":9,"l":8,"x":6.63,"z":6.13},{"c":9,"l":8,"x":6.4,"z":6.71},{"c":9,"l":8,"x":6.14,"z":7.23},{"c":9,"l":8,"x":5.71,"z":7.55},{"c":9,"l":8,"x":5,"z":7.64},
{"c":10,"l":9,"x":5,"z":7.38},{"c":10,"l":9,"x":4.41,"z":7.31},{"c":10,"l":9,"x":3.97,"z":7},{"c":10,"l":9,"x":3.71,"z":6.48},{"c":10,"l":9,"x":3.55,"z":6.02},{"c":10,"l":9,"x":3.55,"z":5.72},{"c":10,"l":9,"x":3.8,"z":5.45},{"c":10,"l":9,"x":4,"z":5.3},{"c":10,"l":9,"x":4.08,"z":5.21},{"c":10,"l":9,"x":4.2,"z":5.07},{"c":10,"l":9,"x":4.39,"z":4.86},{"c":10,"l":9,"x":4.63,"z":4.68},{"c":10,"l":9,"x":5,"z":4.61},{"c":10,"l":9,"x":5.37,"z":4.68},{"c":10,"l":9,"x":5.61,"z":4.86},{"c":10,"l":9,"x":5.8,"z":5.07},{"c":10,"l":9,"x":5.92,"z":5.21},{"c":10,"l":9,"x":6,"z":5.3},{"c":10,"l":9,"x":6.2,"z":5.45},{"c":10,"l":9,"x":6.45,"z":5.72},{"c":10,"l":9,"x":6.45,"z":6.02},{"c":10,"l":9,"x":6.29,"z":6.48},{"c":10,"l":9,"x":6.03,"z":7},{"c":10,"l":9,"x":5.59,"z":7.31},{"c":10,"l":9,"x":5,"z":7.38},
{"c":11,"l":10,"x":5,"z":7.15},{"c":11,"l":10,"x":4.39,"z":7.08},{"c":11,"l":10,"x":4.05,"z":6.83},{"c":11,"l":10,"x":3.81,"z":6.37},{"c":11,"l":10,"x":3.67,"z":5.97},{"c":11,"l":10,"x":3.7,"z":5.65},{"c":11,"l":10,"x":3.9,"z":5.42},{"c":11,"l":10,"x":4.15,"z":5.21},{"c":11,"l":10,"x":4.24,"z":5.15},{"c":11,"l":10,"x":4.39,"z":5.03},{"c":11,"l":10,"x":4.68,"z":4.86},{"c":11,"l":10,"x":5,"z":4.8},{"c":11,"l":10,"x":5.32,"z":4.86},{"c":11,"l":10,"x":5.61,"z":5.03},{"c":11,"l":10,"x":5.76,"z":5.15},{"c":11,"l":10,"x":5.85,"z":5.21},{"c":11,"l":10,"x":6.1,"z":5.42},{"c":11,"l":10,"x":6.3,"z":5.65},{"c":11,"l":10,"x":6.33,"z":5.97},{"c":11,"l":10,"x":6.19,"z":6.37},{"c":11,"l":10,"x":5.95,"z":6.83},{"c":11,"l":10,"x":5.61,"z":7.08},{"c":11,"l":10,"x":5,"z":7.15},
{"c":12,"l":11,"x":5,"z":6.92},{"c":12,"l":11,"x":4.51,"z":6.85},{"c":12,"l":11,"x":4.17,"z":6.62},{"c":12,"l":11,"x":3.95,"z":6.19},{"c":12,"l":11,"x":3.81,"z":5.85},{"c":12,"l":11,"x":3.85,"z":5.58},{"c":12,"l":11,"x":4,"z":5.4},{"c":12,"l":11,"x":4.24,"z":5.21},{"c":12,"l":11,"x":4.44,"z":5.15},{"c":12,"l":11,"x":4.68,"z":5},{"c":12,"l":11,"x":5,"z":4.95},{"c":12,"l":11,"x":5.32,"z":5},{"c":12,"l":11,"x":5.56,"z":5.15},{"c":12,"l":11,"x":5.76,"z":5.21},{"c":12,"l":11,"x":6,"z":5.4},{"c":12,"l":11,"x":6.15,"z":5.58},{"c":12,"l":11,"x":6.19,"z":5.85},{"c":12,"l":11,"x":6.05,"z":6.19},{"c":12,"l":11,"x":5.83,"z":6.62},{"c":12,"l":11,"x":5.49,"z":6.85},{"c":12,"l":11,"x":5,"z":6.92},
{"c":13,"l":12,"x":5,"z":6.72},{"c":13,"l":12,"x":4.55,"z":6.64},{"c":13,"l":12,"x":4.26,"z":6.44},{"c":13,"l":12,"x":4.07,"z":6.08},{"c":13,"l":12,"x":3.92,"z":5.73},{"c":13,"l":12,"x":3.98,"z":5.52},{"c":13,"l":12,"x":4.3,"z":5.3},{"c":13,"l":12,"x":5,"z":5.21},{"c":13,"l":12,"x":5.7,"z":5.3},{"c":13,"l":12,"x":6.02,"z":5.52},{"c":13,"l":12,"x":6.08,"z":5.73},{"c":13,"l":12,"x":5.93,"z":6.08},{"c":13,"l":12,"x":5.74,"z":6.44},{"c":13,"l":12,"x":5.45,"z":6.64},{"c":13,"l":12,"x":5,"z":6.72},
{"c":14,"l":13,"x":5,"z":6.5},{"c":14,"l":13,"x":4.6,"z":6.43},{"c":14,"l":13,"x":4.17,"z":6.25},{"c":14,"l":13,"x":3.96,"z":5.96},{"c":14,"l":13,"x":3.96,"z":5.73},{"c":14,"l":13,"x":4.1,"z":5.5},{"c":14,"l":13,"x":4.55,"z":5.4},{"c":14,"l":13,"x":5,"z":5.42},{"c":14,"l":13,"x":5.45,"z":5.4},{"c":14,"l":13,"x":5.9,"z":5.5},{"c":14,"l":13,"x":6.04,"z":5.73},{"c":14,"l":13,"x":6.04,"z":5.96},{"c":14,"l":13,"x":5.83,"z":6.25},{"c":14,"l":13,"x":5.4,"z":6.43},{"c":14,"l":13,"x":5,"z":6.5},
{"c":15,"l":14,"x":5,"z":6.25},{"c":15,"l":14,"x":4.6,"z":6.2},{"c":15,"l":14,"x":4.17,"z":6.07},{"c":15,"l":14,"x":4.12,"z":5.93},{"c":15,"l":14,"x":4.2,"z":5.68},{"c":15,"l":14,"x":4.6,"z":5.64},{"c":15,"l":14,"x":5,"z":5.63},{"c":15,"l":14,"x":5.4,"z":5.64},{"c":15,"l":14,"x":5.8,"z":5.68},{"c":15,"l":14,"x":5.88,"z":5.93},{"c":15,"l":14,"x":5.83,"z":6.07},{"c":15,"l":14,"x":5.4,"z":6.2},{"c":15,"l":14,"x":5,"z":6.25}]
},
"columns":2,"spacing":{"row":51,"column":99},"bounds":"flush","resolve":{"scale":{"fill":"independent"}},
"concat":[
{"width":345,"height":21,"title":{"text":"(a)","anchor":"start","frame":"group","dx":-40,"offset":2,"fontSize":32,"font":"Liberation Serif","fontWeight":"normal","color":"#222"},"encoding":{"x":{"field":"v","type":"quantitative","scale":{"domain":[319,323],"nice":false,"zero":false},"axis":{"values":[319,323],"format":"d","labelPadding":4,"title":"θₑ / K at y = 5 km","titlePadding":-24,"titleFontSize":33}},"x2":{"field":"e"}},"layer":[{"data":{"name":"ca"},"mark":{"type":"rect"},"encoding":{"fill":{"field":"v","type":"ordinal","legend":null,"scale":{"domain":[319,319.25,319.5,319.75,320,320.25,320.5,320.75,321,321.25,321.5,321.75,322,322.25,322.5,322.75],"range":["#f7fbff","#ebf3fb","#e3eef8","#d0e1f2","#d0e1f2","#c3d8ee","#a6cee4","#94c4df","#82badb","#65aad4","#5ba3d0","#4292c6","#2a7ab9","#1f6fb6","#2060ab","#1a5aa6"]}}}},{"data":{"values":[{"v":319,"e":323}]},"mark":{"type":"rect","fillOpacity":0,"stroke":"#222","strokeWidth":1.2}}]},
{"width":345,"height":21,"title":{"text":"(b)","anchor":"start","frame":"group","dx":-36,"offset":2,"fontSize":32,"font":"Liberation Serif","fontWeight":"normal","color":"#222"},"encoding":{"x":{"field":"v","type":"quantitative","scale":{"domain":[-15,15],"nice":false,"zero":false},"axis":{"values":[-15,15],"labelExpr":"datum.value<0?'-15':'15'","labelPadding":4,"title":"w / m s⁻¹ at y = 5 km","titlePadding":-24,"titleFontSize":33}},"x2":{"field":"e"}},"layer":[{"data":{"name":"cb"},"mark":{"type":"rect"},"encoding":{"fill":{"field":"v","type":"ordinal","legend":null,"scale":{"domain":[-15,-14,-13,-12,-11,-10,-9,-8,-7,-6,-5,-4,-3,-2,-1,0,1,2,3,4,5,6,7,8,9,10,11,12,13,14],"range":["#f7fbff","#f2f8fd","#ecf4fb","#e7f1fa","#e2edf8","#dbe9f6","#d5e5f4","#d0e1f2","#c9ddf0","#c1d9ed","#b9d6eb","#b0d2e7","#a8cee4","#a3cce3","#9ac8e0","#82badb","#78b5d9","#6dafd7","#62a8d3","#5ba3d0","#519ccc","#4a98c9","#4292c6","#3a8ac2","#3282be","#2b7bba","#2474b7","#1e6cb2","#1c64ad","#1a5ba6"]}}}},{"data":{"values":[{"v":-15,"e":15}]},"mark":{"type":"rect","fillOpacity":0,"stroke":"#222","strokeWidth":1.2}}]},
{"width":345,"height":288,"data":{"name":"a"},"encoding":{"x":{"field":"x","type":"quantitative","scale":{"domain":[0,10],"nice":false,"zero":false},"axis":{"values":[0,10],"format":"d","labelPadding":2,"title":"x / km","titlePadding":-26}},"y":{"field":"z","type":"quantitative","scale":{"domain":[0,10],"nice":false,"zero":false},"axis":{"values":[0,10],"format":"d","labelPadding":2,"title":"z / km","titlePadding":-25}},"detail":{"field":"c"},"order":{"value":null},"fill":{"field":"l","type":"ordinal","legend":null,"scale":{"domain":[319.75,320.25,320.75,321,321.5,322,322.25,322.5],"range":["#d0e1f2","#c3d8ee","#a0cbe2","#82badb","#6dafd7","#5ba3d0","#4292c6","#4292c6"]}}},
"layer":[
{"transform":[{"filter":"datum.c==0"}],"mark":{"type":"line","strokeWidth":0}},
{"transform":[{"filter":"datum.c>0"}],"mark":{"type":"line","stroke":"#2a2a2a","strokeWidth":1.1,"interpolate":"catmull-rom"}},
{"transform":[{"filter":"datum.c==0"}],"mark":{"type":"line","stroke":"#444","strokeWidth":1.2,"fillOpacity":0}}
]},
{"width":345,"height":288,"data":{"name":"b"},"encoding":{"x":{"field":"x","type":"quantitative","scale":{"domain":[0,10],"nice":false,"zero":false},"axis":{"values":[0,10],"format":"d","labelPadding":2,"title":"x / km","titlePadding":-26}},"y":{"field":"z","type":"quantitative","scale":{"domain":[0,10],"nice":false,"zero":false},"axis":{"values":[0,10],"format":"d","labelPadding":2,"title":"z / km","titlePadding":-25}},"detail":{"field":"c"},"order":{"value":null},"fill":{"field":"l","type":"ordinal","legend":null,"scale":{"domain":[-6,-5,-4,-3,-2,-1,0,1,2,3,4,5,6,7,8,9,10,11,12,13,14],"range":["#c1d9ed","#b9d6eb","#b0d2e7","#a8cee4","#a3cce3","#9ac8e0","#82badb","#78b5d9","#6dafd7","#62a8d3","#5ba3d0","#519ccc","#4a98c9","#4292c6","#3a8ac2","#3282be","#2b7bba","#2474b7","#1e6cb2","#1c64ad","#1a5ba6"]}}},
"layer":[
{"transform":[{"filter":"datum.c==0"}],"mark":{"type":"line","strokeWidth":0}},
{"transform":[{"filter":"datum.l<-1"}],"mark":{"type":"line","stroke":"#222","strokeWidth":1.1,"strokeDash":[1.5,1.5],"interpolate":"catmull-rom"}},
{"transform":[{"filter":"datum.l>=0"}],"mark":{"type":"line","stroke":"#2a2a2a","strokeWidth":1,"interpolate":"catmull-rom","clip":true}},
{"transform":[{"filter":"datum.c==0"}],"mark":{"type":"line","stroke":"#444","strokeWidth":1.2,"fillOpacity":0}}
]}
]}
